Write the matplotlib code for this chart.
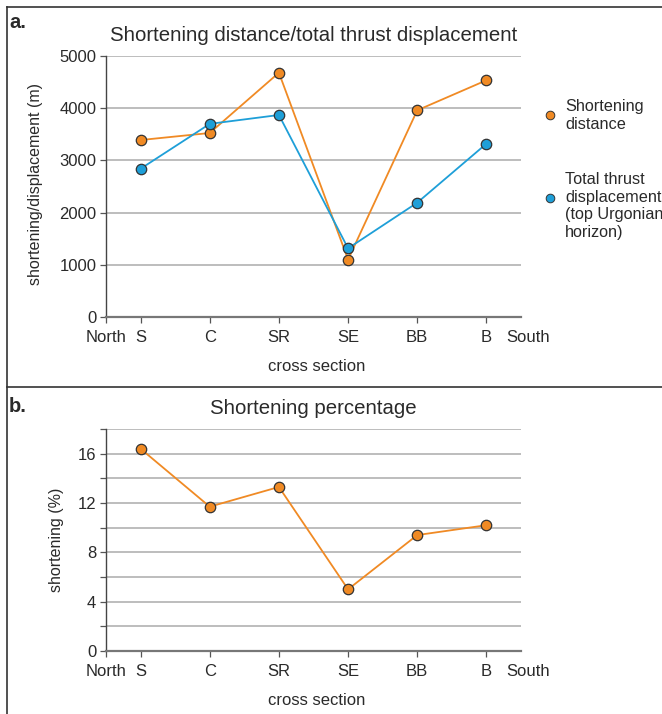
import matplotlib
matplotlib.use("Agg")
import matplotlib.pyplot as plt
from matplotlib.lines import Line2D

plt.rcParams['font.family'] = ['Liberation Sans', 'DejaVu Sans']

sections = ["S", "C", "SR", "SE", "BB", "B"]
shortening_m = [3390, 3525, 4680, 1100, 3960, 4535]
thrust_disp_m = [2840, 3700, 3870, 1315, 2190, 3320]
shortening_pct = [16.4, 11.7, 13.3, 5.0, 9.4, 10.2]
yticks_a = [0, 1000, 2000, 3000, 4000, 5000]
yticks_b = [0, 4, 8, 12, 16]
legend_labels = ["Shortening\ndistance", "Total thrust\ndisplacement\n(top Urgonian\nhorizon)"]

ORANGE = "#F08A24"
BLUE = "#1E9FD8"
GRID = "#ababab"
TXT = "#2a2a2a"
FS = 12

W, H = 662, 714
fig = plt.figure(figsize=(W / 100, H / 100), dpi=100)


def fx(px):
    return px / W


def fy(py):
    return 1 - py / H


# panel borders
for (x0, y0, x1, y1) in [(7, 7, 662, 7), (7, 7, 7, 714), (7, 387, 662, 387)]:
    fig.add_artist(Line2D([fx(x0), fx(x1)], [fy(y0), fy(y1)], color="#333333", lw=1.2))

fig.text(fx(9), fy(23), "a.", fontsize=14.5, fontweight="bold", color=TXT, va="center")
fig.text(fx(9), fy(407), "b.", fontsize=14.5, fontweight="bold", color=TXT, va="center")

x = list(range(len(sections)))


def style_axes(ax, yticks, ylim, minor=None):
    ax.set_xlim(-0.5, 5.5)
    ax.set_ylim(*ylim)
    for s in ["top", "right"]:
        ax.spines[s].set_visible(False)
    ax.spines["left"].set_color("#444444")
    ax.spines["left"].set_linewidth(1.0)
    ax.spines["bottom"].set_color("#777777")
    ax.spines["bottom"].set_linewidth(1.6)
    ax.set_yticks(yticks)
    if minor is not None:
        ax.set_yticks(minor, minor=True)
    ax.yaxis.grid(True, which="both", color=GRID, lw=1.1)
    ax.set_axisbelow(True)
    ax.set_xticks([-0.5] + x)
    ax.set_xticklabels(["North"] + sections)
    ax.tick_params(axis="both", which="both", labelsize=FS, labelcolor=TXT, color="#555555",
                   length=4, width=0.9)
    ax.tick_params(axis="x", pad=5)
    ax.tick_params(axis="y", pad=3)
    ax.annotate("South", xy=(5.6, 0), xycoords=("data", "axes fraction"),
                xytext=(0, -9), textcoords="offset points", ha="center", va="top",
                fontsize=FS, color=TXT, annotation_clip=False)
    ax.get_xticklabels()[0].set_x(-0.53)


# Panel a
axa = fig.add_axes([fx(106), fy(317), fx(521) - fx(106), fy(56) - fy(317)])
style_axes(axa, yticks_a, (0, 5000))
axa.plot(x, shortening_m, color=ORANGE, lw=1.3, marker="o", ms=7.5,
         mfc=ORANGE, mec="#333333", mew=0.9, zorder=3)
axa.plot(x, thrust_disp_m, color=BLUE, lw=1.3, marker="o", ms=7.5,
         mfc=BLUE, mec="#333333", mew=0.9, zorder=4)
axa.set_ylabel("shortening/displacement (m)", fontsize=11.5, color=TXT)
axa.yaxis.set_label_coords(-0.152, 0.51)
axa.set_xlabel("cross section", fontsize=FS, color=TXT)
axa.xaxis.set_label_coords(0.507, -0.162)
axa.set_title("Shortening distance/total thrust displacement", fontsize=14.7, color=TXT, pad=11)

# legend (drawn manually so the marker aligns like the reference)
for (my, ty, col, lab) in [(115, 115.5, ORANGE, legend_labels[0]), (198, 206, BLUE, legend_labels[1])]:
    fig.add_artist(Line2D([fx(550)], [fy(my)], ls="none", marker="o", ms=6.2,
                          mfc=col, mec="#333333", mew=0.7))
    fig.text(fx(565), fy(ty), lab, fontsize=11.7, color=TXT, va="center", ha="left",
             linespacing=1.2)

# Panel b
axb = fig.add_axes([fx(106), fy(651), fx(521) - fx(106), fy(429) - fy(651)])
style_axes(axb, yticks_b, (0, 18), minor=[2, 6, 10, 14, 18])
axb.plot(x, shortening_pct, color=ORANGE, lw=1.3, marker="o", ms=7.5,
         mfc=ORANGE, mec="#333333", mew=0.9, zorder=3)
axb.set_ylabel("shortening (%)", fontsize=11.5, color=TXT)
axb.yaxis.set_label_coords(-0.102, 0.5)
axb.set_xlabel("cross section", fontsize=FS, color=TXT)
axb.xaxis.set_label_coords(0.507, -0.19)
axb.set_title("Shortening percentage", fontsize=14.7, color=TXT, pad=11)

fig.savefig("out.png", dpi=100)
